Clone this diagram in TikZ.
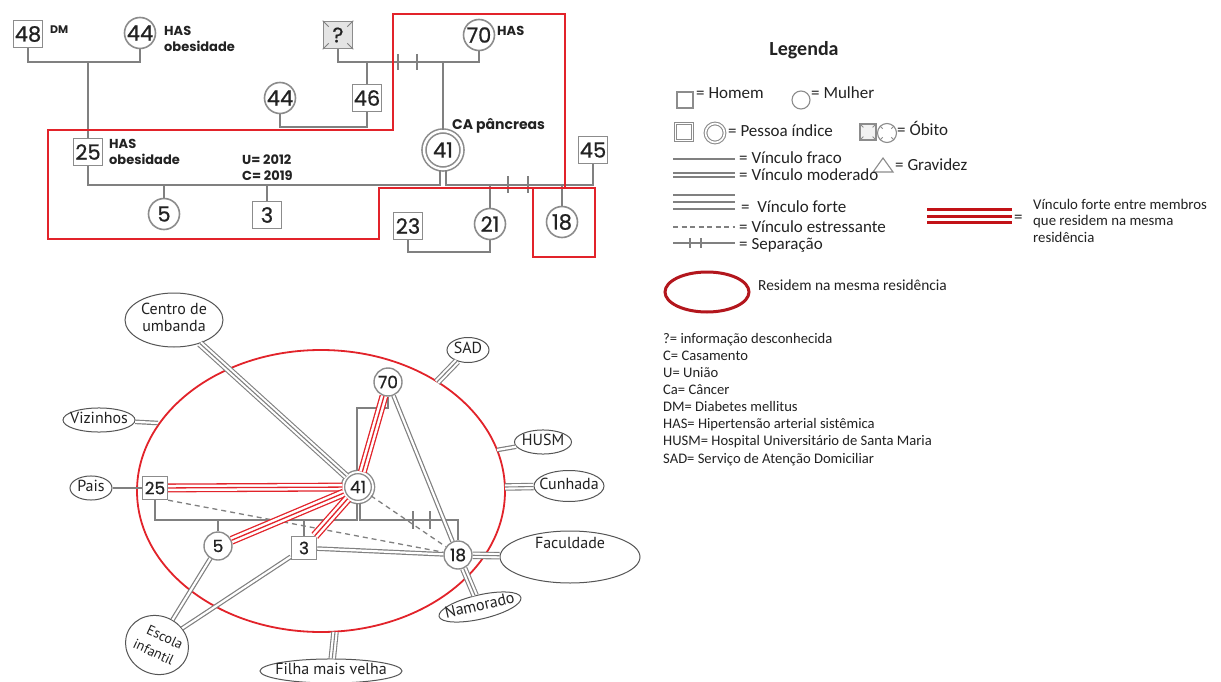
\documentclass[tikz,border=0pt]{standalone}
\usepackage{fontspec}
\setmainfont{Carlito}
\newfontfamily\genofont{Poppins}
\newfontfamily\numfont{Poppins}[FakeBold=0.7]
\newfontfamily\ecofont{PT Sans}
\usetikzlibrary{shapes.geometric, calc, positioning}
\definecolor{cline}{HTML}{808080}
\definecolor{cbox}{HTML}{8C8C8C}
\definecolor{cred}{HTML}{E2232A}
\definecolor{cdkred}{HTML}{B3161D}
\definecolor{ctext}{HTML}{222222}
\definecolor{cedge}{HTML}{555555}
\definecolor{cfill}{HTML}{E4E4E4}
\newcommand{\plabel}[1]{\makebox[0pt]{\begin{tabular}{@{}c@{}}#1\end{tabular}}}
\tikzset{
  % genogram
  genline/.style={draw=cline, line width=2.6pt},
  redbox/.style={draw=cred, line width=2.4pt},
  gbase/.style={draw=cbox, line width=1.6pt, fill=white, inner sep=0pt, text=ctext,
    font=\numfont\fontsize{21}{21}\selectfont},
  gman/.style={gbase, rectangle, minimum width=29pt, minimum height=27pt},
  gwoman/.style={gbase, circle, minimum size=31pt},
  gindex/.style={gwoman, double=white, double distance=2.4pt, minimum size=38pt},
  gdead/.style={gman, fill=cfill},
  note/.style={inner sep=0pt, text=ctext, align=left,
    font=\genofont\bfseries\fontsize{13}{16}\selectfont},
  % ecomap
  ebase/.style={draw=cbox, line width=1.4pt, fill=white, inner sep=0pt, text=ctext,
    font=\numfont\fontsize{17}{17}\selectfont},
  eman/.style={ebase, rectangle, minimum width=25pt, minimum height=23pt},
  ewoman/.style={ebase, circle, minimum size=28pt},
  eindex/.style={ewoman, double=white, double distance=1.8pt, minimum size=30pt},
  place/.style={ellipse, draw=cedge, line width=1pt, fill=white, inner sep=0pt, text=ctext,
    font=\ecofont\fontsize{16}{17}\selectfont},
  efam/.style={draw=cline, line width=2pt},
  ethin/.style={draw=cline, line width=1.4pt},
  edouble/.style={draw=cline, line width=1.2pt, double=white, double distance=2.2pt},
  etriple/.style={draw=cline, line width=1.1pt,
    preaction={draw=cline, line width=7.5pt}, preaction={draw=white, line width=5.3pt}},
  redtriple/.style={draw=cred, line width=1.3pt,
    preaction={draw=cred, line width=8.9pt}, preaction={draw=white, line width=6.3pt}},
  edash/.style={draw=cline, line width=1.3pt, dash pattern=on 5pt off 4pt},
  % legend
  ltext/.style={inner sep=0pt, anchor=base west, text=ctext, font=\fontsize{17}{17}\selectfont},
  lnote/.style={inner sep=0pt, anchor=north west, align=left, text=ctext},
  lsym/.style={draw=cbox, line width=1.1pt, fill=white, inner sep=0pt},
  lline/.style={draw=cline, line width=2pt}
}

\begin{document}
\begin{tikzpicture}[x=1pt, y=-1pt]
\useasboundingbox (0,0) rectangle (1221,682);
\fill[white] (0,0) rectangle (1221,682);

% ============================================================
% Genogram (top left)

% first generation
\node[gman] (g48) at (28,34) {48};
\node[gwoman] (g44a) at (140,33) {44};
\node[gdead] (gq) at (338,35) {?};
\node[gwoman] (g70) at (479,35) {70};
\node[gwoman] (g44b) at (280,98) {44};
\node[gman] (g46) at (367,98) {46};
\draw[cline, line width=1pt] (gq.north west) -- ++(6,6) (gq.north east) -- ++(-6,6)
  (gq.south west) -- ++(6,-6) (gq.south east) -- ++(-6,-6);

% second generation
\node[gman] (g25) at (88,152) {25};
\node[gindex] (g41) at (443,150) {41};
\node[gman] (g45) at (593,150) {45};

% children
\node[gwoman] (g5) at (164,214) {5};
\node[gman] (g3) at (267,215) {3};
\node[gman] (g23) at (408,226) {23};
\node[gwoman] (g21) at (490,224) {21};
\node[gwoman] (g18) at (562,222) {18};

% notes beside the symbols
\node[note, anchor=west, font=\genofont\bfseries\fontsize{11}{13}\selectfont] (ndm) at (50,30) {DM};
\node[note, anchor=west] (nhas1) at (164,39) {HAS\\obesidade};
\node[note, anchor=west] (nhas2) at (109,152) {HAS\\obesidade};
\node[note, anchor=west] (nhas3) at (497,31) {HAS};
\node[note, anchor=west, font=\genofont\bfseries\fontsize{14}{16}\selectfont] (nca) at (452,126) {CA pâncreas};
\node[note, anchor=west] (nuc) at (242,168) {U= 2012\\C= 2019};

% family lines
\coordinate (j1) at (88,62);
\draw[genline] (g48.south) |- (j1) -| (g44a.south);
\draw[genline] (j1) -- (g25.north);
\coordinate (j2) at (443,62);
\draw[genline] (gq.south) |- (j2) -| (g70.south);
\draw[genline] (j2) -- (g41.north);
\draw[genline] (g46.north) -- (g46.north |- j2);
\coordinate (j3) at (324,127);
\draw[genline] (g44b.south) |- (j3) -| (g46.south);
\draw[genline] (398,54) -- (398,70) (417,54) -- (417,70);

\coordinate (j4) at (440,185);
\coordinate (j5) at (446,185);
\draw[genline] (g41.south -| j4) -- (j4) -| (g25.south);
\draw[genline] (g41.south -| j5) -- (j5) -| (g45.south);
\draw[genline] (g5.north) -- (g5.north |- j4);
\draw[genline] (g3.north) -- (g3.north |- j4);
\draw[genline] (g21.north) -- (g21.north |- j5);
\draw[genline] (g18.north) -- (g18.north |- j5);
\coordinate (j6) at (450,252);
\draw[genline] (g23.south) |- (j6) -| (g21.south);
\draw[genline] (508,176) -- (508,193) (528,176) -- (528,193);

% households
\draw[redbox] (48,130) -- (393,130) -- (393,14) -- (565,14) -- (565,188)
  -- (379,188) -- (379,239) -- (48,239) -- cycle;
\draw[redbox] (533,188) rectangle (595,257);

% ============================================================
% Ecomap (bottom left)

\draw[cred, line width=1.8pt] (321,491) ellipse [x radius=184, y radius=141];

% family members
\node[eman] (e25) at (155,488) {25};
\node[eindex] (e41) at (358,487) {41};
\node[ewoman] (e5) at (218,546) {5};
\node[eman] (e3) at (304,548) {3};
\node[ewoman] (e18) at (458,555) {18};
\node[ewoman] (e70) at (388,382) {70};

% outside resources
\node[place, minimum width=98pt, minimum height=54pt] (ecentro) at (174,320) {\plabel{Centro de\\umbanda}};
\node[place, minimum width=72pt, minimum height=24pt] (eviz) at (99,420) {\plabel{Vizinhos}};
\node[place, minimum width=42pt, minimum height=22pt] (epais) at (91,488) {\plabel{Pais}};
\node[place, minimum width=64pt, minimum height=58pt, rotate=-25,
  font=\ecofont\fontsize{14}{18}\selectfont] (eescola) at (157,645) {\plabel{\hspace*{8pt}Escola\\infantil}};
\node[place, minimum width=142pt, minimum height=22pt] (efilha) at (331,671) {\plabel{Filha mais velha}};
\node[place, minimum width=42pt, minimum height=25pt] (esad) at (468,350) {\plabel{SAD}};
\node[place, minimum width=57pt, minimum height=21pt] (ehusm) at (543,442) {\plabel{HUSM}};
\node[place, minimum width=70pt, minimum height=31pt] (ecunh) at (569,486) {\plabel{Cunhada}};
\node[place, minimum width=140pt, minimum height=52pt] (efac) at (570,557) {};
\node[inner sep=0pt, text=ctext, font=\ecofont\fontsize{16}{17}\selectfont] (efaclbl) at (570,543) {Faculdade};
\node[place, minimum width=84pt, minimum height=23pt, rotate=13] (enam) at (480,607) {\plabel{Namorado}};

% family lines inside the ecomap
\coordinate (f1) at (357,520);
\coordinate (f2) at (360,520);
\draw[efam] (e25.south) |- (f1) -- (f1 |- e41.south);
\draw[efam] (f2 |- e41.south) -- (f2) -| (e18.north);
\draw[efam] (e5.north) -- (e5.north |- f1);
\draw[efam] (e3.north) -- (e3.north |- f1);
\draw[efam] (413,511) -- (413,529) (430,511) -- (430,529);
\coordinate (f3) at (357,408);
\draw[efam] (e70.south) |- (f3) -- (f3 |- e41.north);

% ties to the resources
\coordinate (vizend) at (158,423);
\coordinate (sadend) at (437,382);
\coordinate (husmend) at (497,450);
\coordinate (cunhend) at (505,487);
\coordinate (filhaend) at (335,632);
\draw[ethin] (epais) -- (e25);
\draw[edouble] (eviz) -- (vizend);
\draw[etriple] (ecentro) -- (e41);
\draw[etriple] (esad) -- (sadend);
\draw[edouble] (ehusm) -- (husmend);
\draw[etriple] (ecunh) -- (cunhend);
\draw[etriple] (efac) -- (e18);
\draw[etriple] (enam) -- (e18);
\draw[etriple] (efilha) -- (filhaend);
\draw[edouble] (e5) -- (eescola);
\draw[edouble] (e3) -- (eescola);

% ties between members
\draw[edouble] (e70) -- (e18);
\draw[edouble] (e3) -- (e18);
\draw[edash] (e25.south east) -- (e18);
\draw[edash] (e41) -- (e18);
\draw[redtriple] (e25) -- (e41);
\draw[redtriple] (e5) -- (e41);
\draw[redtriple] (e3) -- (e41);
\draw[redtriple] (e70) -- (e41);

% ============================================================
% Legend (right)

\node[text=ctext, font=\bfseries\fontsize{20}{20}\selectfont] (leg) at (804,50) {Legenda};

\node[lsym, minimum size=16pt] (lhom) at (685,100) {};
\node[ltext] (thom) at (696,99) {= Homem};
\node[lsym, circle, minimum size=18pt] (lmul) at (801,100) {};
\node[ltext] (tmul) at (811,99) {= Mulher};

\node[lsym, double=white, double distance=1.6pt, minimum size=17pt] (lidx) at (684,132) {};
\node[lsym, circle, double=white, double distance=1.6pt, minimum size=19pt] (lidxc) at (715,133) {};
\node[ltext] (tidx) at (728,137) {= Pessoa índice};

\node[lsym, fill=cfill!50, minimum size=16pt] (ldead) at (868,132) {};
\node[lsym, circle, minimum size=19pt] (ldeadc) at (887,133) {};
\draw[cbox, line width=0.8pt] (ldead.north west) -- ++(4,4) (ldead.north east) -- ++(-4,4)
  (ldead.south west) -- ++(4,-4) (ldead.south east) -- ++(-4,-4);
\foreach \a in {45,135,225,315}
  \draw[cbox, line width=0.8pt] (ldeadc.\a) -- ($(ldeadc.center)!0.6!(ldeadc.\a)$);
\node[ltext] (tobito) at (897,136) {= Óbito};

\draw[lline] (673,159) -- (735,159);
\node[ltext] (tfraco) at (739,164) {= Vínculo fraco};
\draw[cbox, line width=1.1pt] (873,172) -- (883,158) -- (893,172) -- cycle;
\node[ltext] (tgrav) at (895,171) {= Gravidez};
\draw[lline, double=white, double distance=2.6pt] (673,175) -- (735,175);
\node[ltext] (tmod) at (739,181) {= Vínculo moderado};
\draw[lline, preaction={draw=cline, line width=16pt}, preaction={draw=white, line width=11.6pt}] (673,202) -- (735,202);
\node[ltext] (tforte) at (741,212) {=\ \ Vínculo forte};
\draw[lline, dash pattern=on 5pt off 3.5pt] (673,227) -- (735,227);
\node[ltext] (testr) at (739,232) {= Vínculo estressante};
\draw[lline] (673,243) -- (735,243);
\draw[lline, line width=1.6pt] (690,238) -- (690,248) (701,238) -- (701,248);
\node[ltext] (tsep) at (739,249) {= Separação};

\draw[draw=cdkred!80!red, line width=3pt, preaction={draw=cdkred!80!red, line width=16pt}, preaction={draw=white, line width=10pt}] (927,216) -- (1012,216);
\node[ltext] (tred) at (1014,222) {=};
\node[lnote, font=\fontsize{14.8}{16.5}\selectfont] (lred) at (1033,199) {Vínculo forte entre membros\\que residem na mesma\\residência};

\draw[cdkred, line width=3pt] (707,292) ellipse [x radius=42, y radius=20];
\node[ltext, font=\fontsize{15.4}{15.4}\selectfont] (tres) at (758,290) {Residem na mesma residência};

\node[lnote, font=\fontsize{14.6}{17.1}\selectfont] (abbr) at (663,333) {?= informação desconhecida\\
C= Casamento\\
U= União\\
Ca= Câncer\\
DM= Diabetes mellitus\\
HAS= Hipertensão arterial sistêmica\\
HUSM= Hospital Universitário de Santa Maria\\
SAD= Serviço de Atenção Domiciliar};

\end{tikzpicture}
\end{document}
